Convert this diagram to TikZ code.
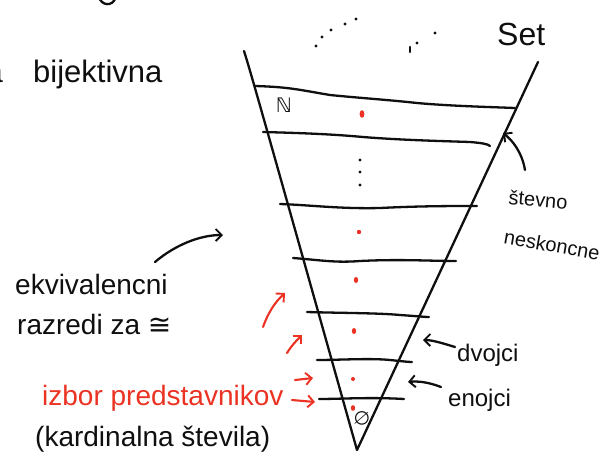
\documentclass[tikz,border=0pt]{standalone}
\usepackage{fontspec}
\setmainfont{Liberation Sans}
\newfontfamily\symfnt{DejaVu Sans}
\usetikzlibrary{arrows.meta}
\definecolor{pen}{RGB}{15,15,15}
\definecolor{redpen}{RGB}{235,50,35}
\tikzset{
  ink/.style={draw=pen, line width=2.3pt, line cap=round, line join=round},
  redink/.style={draw=redpen, line width=2.1pt, line cap=round, line join=round},
  tip/.style={-{Straight Barb[length=6pt,width=12pt,line width=1.9pt]}},
  lbl/.style={inner sep=0pt, text=pen, font=\fontsize{#1}{#1}\selectfont},
  lbl/.default=28,
  rlbl/.style={inner sep=0pt, text=redpen, font=\fontsize{28}{28}\selectfont},
  rdot/.style={fill=redpen, draw=none},
  bdot/.style={fill=pen, draw=none}
}
\begin{document}
\begin{tikzpicture}[x=1pt,y=-1pt]
\useasboundingbox (0,0) rectangle (611,464);
\clip (0,0) rectangle (611,464);
\fill[white] (0,0) rectangle (611,464);

% cut-off strokes at the top-left
\draw[ink] (99,-3) .. controls (101,5) and (112,8) .. (116,-3);
\node[lbl=31, anchor=base east] (acut) at (3,82) {a};
\node[lbl=31, anchor=base west] (bij) at (33,82) {bijektivna};

% cone
\coordinate (ltop) at (244,51);
\coordinate (rtop) at (538,62);
\coordinate (apex) at (357,450);
\draw[ink] (ltop) .. controls (250,70) and (255,87) .. (apex) -- (rtop);

% levels
\draw[ink] (255,86) .. controls (290,87) and (300,90) .. (330,95)
  .. controls (360,98) and (390,100) .. (417,103) .. controls (450,106) and (490,107) .. (515,108);
\draw[ink] (263,132) .. controls (300,133) and (330,134) .. (363,137)
  .. controls (400,140) and (440,141) .. (470,142) .. controls (482,143) and (488,144) .. (490,146);
\draw[ink] (280,204) .. controls (310,205) and (340,209) .. (380,208) .. controls (420,206) and (450,206) .. (477,206);
\draw[ink] (293,258) .. controls (320,260) and (335,263) .. (360,261) .. controls (400,259) and (430,261) .. (456,261);
\draw[ink] (307,312) .. controls (340,313) and (380,313) .. (400,315) .. controls (415,316) and (425,317) .. (429,317);
\draw[ink] (317,360) .. controls (340,360) and (370,358) .. (390,360) .. controls (400,361) and (408,362) .. (412,362);
\draw[ink] (319,399) .. controls (340,399) and (370,397) .. (404,399);

% labels inside cone
\node[lbl=20] (nat) at (284,105) {\symfnt ℕ};
\node[lbl=19, rotate=-10] (empty) at (362,418) {\symfnt ∅};

% red representatives
\fill[rdot] (362,114) ellipse (2.4pt and 3.8pt);
\fill[rdot] (359,232) circle (2.2pt);
\fill[rdot] (356,280) ellipse (2.2pt and 3pt);
\fill[rdot] (354,331) ellipse (2.2pt and 3pt);
\fill[rdot] (353,379) circle (2pt);
\fill[rdot] (353,408) ellipse (2.2pt and 2.8pt);

% vertical dots
\fill[bdot] (360,160) circle (1.7pt);
\fill[bdot] (360,172) circle (1.7pt);
\fill[bdot] (360,185) circle (1.7pt);

% top dots
\fill[bdot] (316,46) circle (1.7pt);
\fill[bdot] (322,37) circle (1.7pt);
\fill[bdot] (331,30) circle (1.7pt);
\fill[bdot] (345,24) circle (1.7pt);
\fill[bdot] (356,19) circle (1.7pt);
\draw[ink] (410,47) -- (410,52);
\fill[bdot] (417,43) circle (1.7pt);
\fill[bdot] (435,33) circle (1.7pt);

\node[lbl=32, anchor=base west] (set) at (497,45) {Set};

% right labels
\node[lbl=20, anchor=base west, rotate=-5] (stevno) at (508,204) {števno};
\node[lbl=20, rotate=-10] (nesk) at (552,245) {neskoncne};
\coordinate (sA) at (503,133);
\draw[ink, tip] (525,170) .. controls (522,152) and (512,140) .. (sA);

\node[lbl=24, anchor=base west] (dvojci) at (457,361) {dvojci};
\node[lbl=24, anchor=base west] (enojci) at (448,406) {enojci};
\coordinate (dA) at (423,340);
\coordinate (eA) at (408,382);
\draw[ink, tip] (455,347) .. controls (442,343) and (432,340) .. (dA);
\draw[ink, tip] (441,387) .. controls (428,382) and (418,381) .. (eA);

% left labels
\node[lbl=28, anchor=base west] (ekv) at (15,294) {ekvivalencni};
\node[lbl=28, anchor=base west] (raz) at (17,334) {razredi za {\symfnt ≅}};
\coordinate (kA) at (223,235);
\draw[ink, tip] (155,262) .. controls (175,245) and (200,235) .. (kA);

\node[rlbl, anchor=base west] (izbor) at (42,405) {izbor predstavnikov};
\node[lbl=28, anchor=base west] (kard) at (35,446) {(kardinalna števila)};

% red arrows
\coordinate (r1) at (285,293);
\coordinate (r2) at (302,335);
\coordinate (r3) at (313,378);
\coordinate (r4) at (315,402);
\draw[redink, tip] (263,327) .. controls (268,313) and (275,302) .. (r1);
\draw[redink, tip] (287,353) .. controls (292,345) and (297,340) .. (r2);
\draw[redink, tip] (295,380) -- (r3);
\draw[redink, tip] (292,400) -- (r4);
\end{tikzpicture}
\end{document}
